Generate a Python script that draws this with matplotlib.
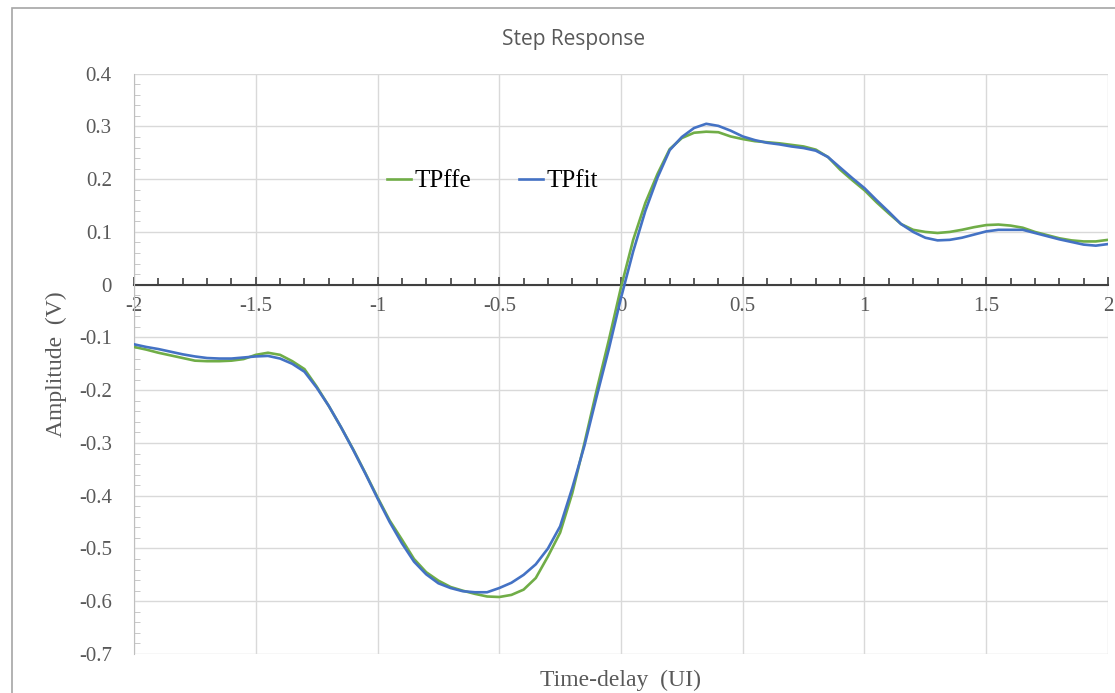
import numpy as np
import matplotlib.pyplot as plt
from matplotlib.patches import Rectangle
from matplotlib.ticker import MultipleLocator

# time axis, UI
t_ui = np.round(np.arange(-2.0, 2.0001, 0.05), 2)

tp_ffe = [
    -0.118, -0.123, -0.129, -0.134, -0.139, -0.144, -0.145, -0.145, -0.144, -0.141,
    -0.133, -0.129, -0.133, -0.145, -0.160, -0.193, -0.230, -0.270, -0.312, -0.357,
    -0.403, -0.447, -0.483, -0.520, -0.545, -0.561, -0.573, -0.580, -0.586, -0.591,
    -0.592, -0.588, -0.578, -0.556, -0.515, -0.470, -0.395, -0.300, -0.200, -0.105,
    -0.005, 0.085, 0.155, 0.210, 0.257, 0.278, 0.288, 0.290, 0.289, 0.281,
    0.276, 0.272, 0.270, 0.268, 0.265, 0.262, 0.256, 0.242, 0.218, 0.198,
    0.179, 0.156, 0.135, 0.115, 0.104, 0.100, 0.098, 0.100, 0.104, 0.109,
    0.113, 0.114, 0.112, 0.108, 0.100, 0.094, 0.088, 0.084, 0.082, 0.082,
    0.085,
]

tp_fit = [
    -0.113, -0.118, -0.122, -0.127, -0.132, -0.136, -0.139, -0.140, -0.140, -0.138,
    -0.136, -0.135, -0.140, -0.150, -0.165, -0.195, -0.230, -0.270, -0.313, -0.358,
    -0.405, -0.450, -0.490, -0.525, -0.549, -0.566, -0.575, -0.581, -0.583, -0.583,
    -0.575, -0.565, -0.550, -0.530, -0.500, -0.458, -0.385, -0.305, -0.212, -0.122,
    -0.025, 0.063, 0.140, 0.203, 0.255, 0.280, 0.297, 0.305, 0.301, 0.292,
    0.281, 0.274, 0.269, 0.266, 0.262, 0.259, 0.254, 0.242, 0.222, 0.202,
    0.183, 0.160, 0.138, 0.115, 0.100, 0.089, 0.084, 0.085, 0.089, 0.095,
    0.101, 0.104, 0.104, 0.104, 0.098, 0.092, 0.086, 0.081, 0.076, 0.074,
    0.077,
]

serif = ['Liberation Serif', 'DejaVu Serif']
txt_gray = '#595959'
grid_gray = '#d9d9d9'

fig = plt.figure(figsize=(11.15, 6.93), dpi=100)
ax = fig.add_axes([0.1202, 0.0563, 0.8735, 0.8374])

# chart frame
fig.patches.append(Rectangle((12 / 1115, -0.01), 1.02, 1 - 8 / 693 + 0.01,
                             transform=fig.transFigure, fill=False,
                             edgecolor='#a6a6a6', linewidth=1.2))

ax.plot(t_ui, tp_ffe, color='#70AD47', lw=1.9, label='TPffe', zorder=3)
ax.plot(t_ui, tp_fit, color='#4472C4', lw=1.9, label='TPfit', zorder=4)

ax.set_xlim(-2, 2)
ax.set_ylim(-0.7, 0.4)

ax.xaxis.set_major_locator(MultipleLocator(0.5))
ax.xaxis.set_minor_locator(MultipleLocator(0.1))
ax.yaxis.set_major_locator(MultipleLocator(0.1))
ax.yaxis.set_minor_locator(MultipleLocator(0.02))

for x in np.arange(-2, 2.01, 0.5):
    ax.axvline(x, color=grid_gray, lw=1, zorder=0)
for y in np.arange(-0.7, 0.41, 0.1):
    ax.axhline(y, color=grid_gray, lw=1, zorder=0)

ax.spines['top'].set_visible(False)
ax.spines['right'].set_visible(False)
ax.spines['bottom'].set_position(('data', 0))
ax.spines['bottom'].set_color('#404040')
ax.spines['bottom'].set_linewidth(1.5)
ax.spines['bottom'].set_zorder(2)
ax.spines['left'].set_color('#bfbfbf')

ax.tick_params(axis='x', which='both', direction='in', color='#404040',
               width=1.2, pad=9, labelsize=15, labelcolor=txt_gray)
ax.tick_params(axis='x', which='major', length=6)
ax.tick_params(axis='x', which='minor', length=5)
ax.tick_params(axis='y', which='both', direction='in', color='#bfbfbf',
               labelsize=15, labelcolor=txt_gray, pad=16)
ax.tick_params(axis='y', which='major', length=0)
ax.tick_params(axis='y', which='minor', length=4)

def fmt(v):
    s = f'{v:.1f}'.rstrip('0').rstrip('.')
    return '0' if s in ('0', '-0') else s

ax.set_xticks(np.arange(-2, 2.01, 0.5))
ax.set_xticklabels([fmt(v) for v in np.arange(-2, 2.01, 0.5)], family=serif)
yt = np.round(np.arange(-0.7, 0.41, 0.1), 1)
ax.set_yticks(yt)
ax.set_yticklabels([fmt(v) for v in yt], family=serif)

ax.set_xlabel('Time-delay  (UI)', family=serif, fontsize=17, color=txt_gray)
ax.xaxis.set_label_coords(0.5, -0.028)
ax.set_ylabel('Amplitude  (V)', family=serif, fontsize=17, color=txt_gray)
ax.yaxis.set_label_coords(-0.069, 0.5)

fig.text(0.514, 0.943, 'Step Response', ha='center', va='center',
         fontsize=15, color=txt_gray, family=['Open Sans', 'DejaVu Sans'])

leg = ax.legend(loc='center', bbox_to_anchor=(0.368, 0.815), ncol=2,
                frameon=False, prop={'family': serif, 'size': 18},
                handlelength=0.95, handletextpad=0.15, columnspacing=1.9)

fig.savefig('out.png', dpi=100)
